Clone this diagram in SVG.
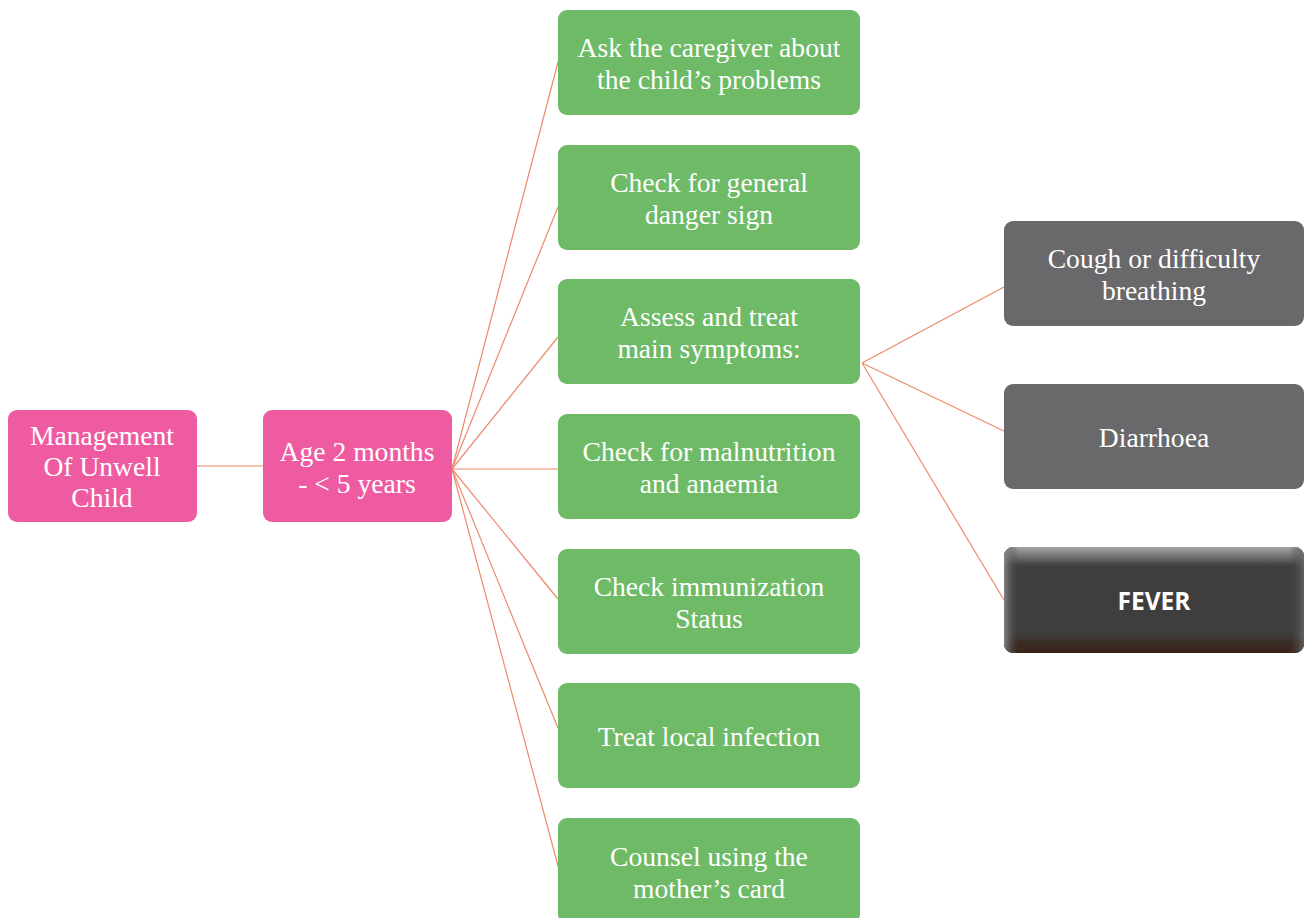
<svg xmlns="http://www.w3.org/2000/svg" width="1304" height="918" viewBox="0 0 1304 918">
  <style>
    .pink { fill: #EF5BA1; }
    .green { fill: #6EBA67; }
    .grey { fill: #69696B; }
    .lbl { font-family: "Liberation Serif", "DejaVu Serif", serif; font-size: 27.6px; fill: #FFFFFF; text-anchor: middle; }
    .bold { font-family: "Open Sans", "Liberation Sans", sans-serif; font-size: 24.5px; font-weight: bold; fill: #FFFFFF; text-anchor: middle; }
    .link { stroke: #EE8A6C; stroke-width: 1.2; fill: none; }
  </style>
  <defs>
    <linearGradient id="bevelTop" x1="0" y1="0" x2="0" y2="1">
      <stop offset="0" stop-color="#A5A5A5"/>
      <stop offset="0.13" stop-color="#5A5A5A"/>
      <stop offset="0.2" stop-color="#3E3E3E" stop-opacity="0"/>
      <stop offset="0.78" stop-color="#3E3E3E" stop-opacity="0"/>
      <stop offset="0.9" stop-color="#3A2C25"/>
      <stop offset="1" stop-color="#3A2418"/>
    </linearGradient>
    <linearGradient id="bevelSide" x1="0" y1="0" x2="1" y2="0">
      <stop offset="0" stop-color="#8A8A8A" stop-opacity="0.9"/>
      <stop offset="0.05" stop-color="#3E3E3E" stop-opacity="0"/>
      <stop offset="0.95" stop-color="#3E3E3E" stop-opacity="0"/>
      <stop offset="1" stop-color="#6A6A6A" stop-opacity="0.8"/>
    </linearGradient>
  </defs>

  <!-- connectors -->
  <g id="connectors">
    <line class="link" x1="197" y1="466" x2="263" y2="466"/>
    <line class="link" x1="452" y1="469" x2="558" y2="62"/>
    <line class="link" x1="452" y1="469" x2="558" y2="207"/>
    <line class="link" x1="452" y1="469" x2="558" y2="337"/>
    <line class="link" x1="452" y1="469" x2="558" y2="469"/>
    <line class="link" x1="452" y1="469" x2="558" y2="599"/>
    <line class="link" x1="452" y1="469" x2="558" y2="728"/>
    <line class="link" x1="452" y1="469" x2="558" y2="866"/>
    <line class="link" x1="862" y1="363" x2="1004" y2="287"/>
    <line class="link" x1="862" y1="363" x2="1004" y2="431"/>
    <line class="link" x1="862" y1="363" x2="1004" y2="600"/>
  </g>

  <!-- root -->
  <g id="node-management">
    <rect class="pink" x="8" y="410" width="189" height="112" rx="9"/>
    <text class="lbl" x="102" y="445">Management</text>
    <text class="lbl" x="102" y="476">Of Unwell</text>
    <text class="lbl" x="102" y="507">Child</text>
  </g>

  <g id="node-age">
    <rect class="pink" x="263" y="410" width="189" height="112" rx="9"/>
    <text class="lbl" x="357" y="461">Age 2 months</text>
    <text class="lbl" x="357" y="493">- &lt; 5 years</text>
  </g>

  <!-- steps -->
  <g id="node-ask">
    <rect class="green" x="558" y="10" width="302" height="105" rx="9"/>
    <text class="lbl" x="709" y="57">Ask the caregiver about</text>
    <text class="lbl" x="709" y="89">the child’s problems</text>
  </g>
  <g id="node-danger">
    <rect class="green" x="558" y="145" width="302" height="105" rx="9"/>
    <text class="lbl" x="709" y="192">Check for general</text>
    <text class="lbl" x="709" y="224">danger sign</text>
  </g>
  <g id="node-assess">
    <rect class="green" x="558" y="279" width="302" height="105" rx="9"/>
    <text class="lbl" x="709" y="326">Assess and treat</text>
    <text class="lbl" x="709" y="358">main symptoms:</text>
  </g>
  <g id="node-malnutrition">
    <rect class="green" x="558" y="414" width="302" height="105" rx="9"/>
    <text class="lbl" x="709" y="461">Check for malnutrition</text>
    <text class="lbl" x="709" y="493">and anaemia</text>
  </g>
  <g id="node-immunization">
    <rect class="green" x="558" y="549" width="302" height="105" rx="9"/>
    <text class="lbl" x="709" y="596">Check immunization</text>
    <text class="lbl" x="709" y="628">Status</text>
  </g>
  <g id="node-infection">
    <rect class="green" x="558" y="683" width="302" height="105" rx="9"/>
    <text class="lbl" x="709" y="746">Treat local infection</text>
  </g>
  <g id="node-counsel">
    <rect class="green" x="558" y="818" width="302" height="105" rx="9"/>
    <text class="lbl" x="709" y="866">Counsel using the</text>
    <text class="lbl" x="709" y="898">mother’s card</text>
  </g>

  <!-- main symptoms -->
  <g id="node-cough">
    <rect class="grey" x="1004" y="221" width="300" height="105" rx="9"/>
    <text class="lbl" x="1154" y="268">Cough or difficulty</text>
    <text class="lbl" x="1154" y="300">breathing</text>
  </g>
  <g id="node-diarrhoea">
    <rect class="grey" x="1004" y="384" width="300" height="105" rx="9"/>
    <text class="lbl" x="1154" y="447">Diarrhoea</text>
  </g>
  <g id="node-fever">
    <rect x="1004" y="547" width="300" height="106" rx="9" fill="#3E3E3E"/>
    <rect x="1004" y="547" width="300" height="106" rx="9" fill="url(#bevelTop)"/>
    <rect x="1004" y="547" width="300" height="106" rx="9" fill="url(#bevelSide)"/>
    <text class="bold" x="1154" y="610">FEVER</text>
  </g>
</svg>
